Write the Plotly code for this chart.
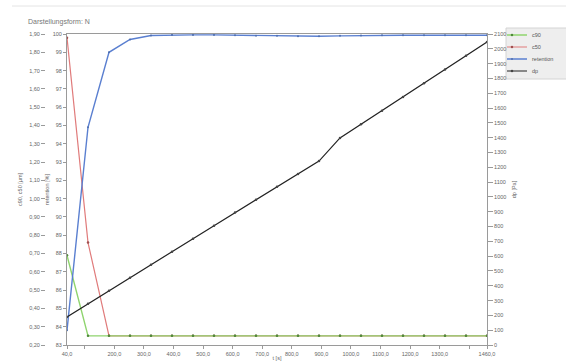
import plotly.graph_objects as go

# ---- data ----
t_s = [40, 111, 182, 253, 324, 395, 466, 537, 608, 679, 750,
       821, 892, 963, 1034, 1105, 1176, 1247, 1318, 1389, 1460]
c90 = [0.69, 0.25, 0.25, 0.25, 0.25, 0.25, 0.25, 0.25, 0.25, 0.25, 0.25,
       0.25, 0.25, 0.25, 0.25, 0.25, 0.25, 0.25, 0.25, 0.25, 0.25]
c50 = [1.88, 0.76, 0.25, 0.25, 0.25, 0.25, 0.25, 0.25, 0.25, 0.25, 0.25,
       0.25, 0.25, 0.25, 0.25, 0.25, 0.25, 0.25, 0.25, 0.25, 0.25]
retention = [83.8, 94.9, 99.0, 99.7, 99.92, 99.95, 99.95, 99.95, 99.93, 99.9, 99.9,
             99.88, 99.88, 99.9, 99.92, 99.93, 99.93, 99.93, 99.93, 99.93, 99.93]
dp = [189, 278, 366, 454, 542, 630, 718, 806, 894, 980, 1068,
      1155, 1242, 1398, 1490, 1582, 1675, 1768, 1860, 1953, 2046]

x_tickvals = [40, 100, 200, 300, 400, 500, 600, 700, 800, 900, 1000, 1100, 1200, 1300, 1400, 1460]
x_ticktext = ["40,0", "", "200,0", "300,0", "400,0", "500,0", "600,0", "700,0", "800,0",
              "900,0", "1000,0", "1100,0", "1200,0", "1300,0", "", "1460,0"]

series_names = ["c90", "c50", "retention", "dp"]
title_text = "Darstellungsform: N"
x_title = "t [s]"
y1_title = "c90, c50 [µm]"
y2_title = "retention [%]"
y3_title = "dp [Pa]"

# ---- styling ----
W, H = 566, 364
ML, MR, MT, MB = 45, 79, 34, 19
plot_left_px = 67
pw = W - ML - MR
ph = H - MT - MB
dom0 = (plot_left_px - ML) / pw


def px_x(p):
    return (p - ML) / pw


def px_y(p):
    return (H - MB - p) / ph


font_fam = "Liberation Sans, Arial, sans-serif"
tick_font = dict(family=font_fam, size=5.5, color="#666")
title_font = dict(family=font_fam, size=5.5, color="#666")
axis_col = "#9a9a9a"

fig = go.Figure()
fig.add_trace(go.Scatter(x=t_s, y=c50, name=series_names[1], mode="lines+markers",
                         line=dict(color="#e07b7b", width=1.2),
                         marker=dict(size=2.5, color="#a05050"), yaxis="y", legend="legend2"))
fig.add_trace(go.Scatter(x=t_s, y=c90, name=series_names[0], mode="lines+markers",
                         line=dict(color="#8fd46e", width=1.4),
                         marker=dict(size=2.5, color="#4f8a3a"), yaxis="y", legend="legend"))
fig.add_trace(go.Scatter(x=t_s, y=retention, name=series_names[2], mode="lines+markers",
                         line=dict(color="#5a7fd0", width=1.4),
                         marker=dict(size=2, color="#5070b0"), yaxis="y2", legend="legend3"))
fig.add_trace(go.Scatter(x=t_s, y=dp, name=series_names[3], mode="lines+markers",
                         line=dict(color="#222222", width=1.2),
                         marker=dict(size=2.5, color="#444444"), yaxis="y3", legend="legend4"))

leg_common = dict(x=px_x(507), xanchor="left", yanchor="middle",
                  bgcolor="rgba(0,0,0,0)", borderwidth=0, indentation=-15,
                  font=dict(family=font_fam, size=5.5, color="#555"), itemwidth=30)
leg_y = [35, 47, 59, 71]

fig.update_layout(
    width=W, height=H,
    margin=dict(l=ML, r=MR, t=MT, b=MB, autoexpand=False),
    paper_bgcolor="white", plot_bgcolor="white",
    separators=",.",
    showlegend=True,
    legend=dict(y=px_y(leg_y[0]), **leg_common),
    legend2=dict(y=px_y(leg_y[1]), **leg_common),
    legend3=dict(y=px_y(leg_y[2]), **leg_common),
    legend4=dict(y=px_y(leg_y[3]), **leg_common),
    title=dict(text=title_text, x=28 / W, y=1 - 22 / H, xref="container", yref="container",
               xanchor="left", yanchor="middle",
               font=dict(family=font_fam, size=7, color="#777")),
    xaxis=dict(domain=[dom0, 1], range=[40, 1460], tickvals=x_tickvals, ticktext=x_ticktext,
               showgrid=False, zeroline=False, showline=True, linecolor=axis_col, linewidth=1,
               mirror=True, ticks="outside", ticklen=3, tickcolor=axis_col, tickfont=tick_font,
               title=dict(text=x_title, font=title_font, standoff=0)),
    yaxis=dict(anchor="free", position=0, range=[0.2, 1.9], dtick=0.1, tickformat=".2f",
               showgrid=False, zeroline=False, showline=False, ticks="outside", ticklen=4,
               tickcolor=axis_col, tickfont=tick_font,
               title=dict(text=y1_title, font=title_font, standoff=5)),
    yaxis2=dict(overlaying="y", anchor="x", side="left", range=[83, 100], dtick=1,
                showgrid=False, zeroline=False, showline=True, linecolor=axis_col, linewidth=1,
                ticks="outside", ticklen=3, tickcolor=axis_col, tickfont=tick_font,
                title=dict(text=y2_title, font=title_font, standoff=2)),
    yaxis3=dict(overlaying="y", anchor="x", side="right", range=[0, 2100], dtick=100,
                showgrid=False, zeroline=False, showline=True, linecolor=axis_col, linewidth=1,
                ticks="outside", ticklen=5, tickcolor=axis_col, tickfont=tick_font,
                title=dict(text=y3_title, font=title_font, standoff=6)),
    shapes=[
        dict(type="line", xref="paper", yref="paper",
             x0=px_x(12), x1=px_x(W), y0=px_y(6), y1=px_y(6),
             line=dict(color="#e4e4e4", width=1)),
        dict(type="rect", xref="paper", yref="paper", layer="below",
             x0=px_x(506), x1=px_x(W + 2), y0=px_y(79), y1=px_y(28),
             fillcolor="#eeeeee", line=dict(color="#d4d4d4", width=1)),
    ],
)

fig.write_html("out.html", config={"displayModeBar": False},
               post_script="document.body.style.margin='0';")
